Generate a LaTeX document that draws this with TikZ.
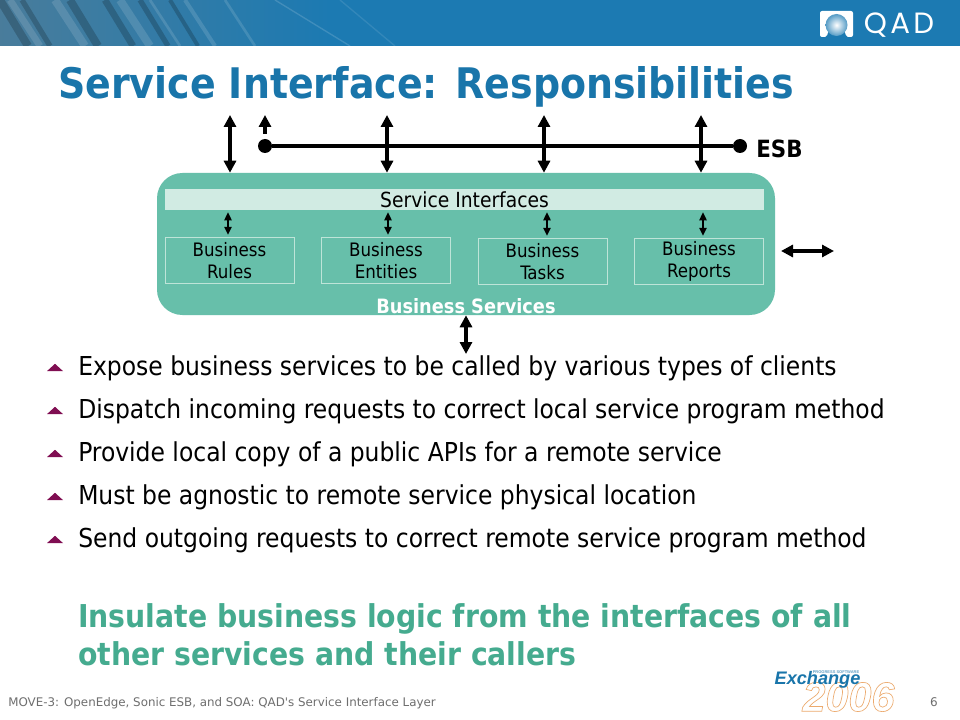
\documentclass[tikz,border=0pt]{standalone}
\usepackage{fontspec}
\setmainfont{DejaVu Sans Condensed}
\newfontfamily\footfont{DejaVu Sans}
\newfontfamily\logofont{Poppins}
\newfontfamily\exchfont{Liberation Sans}
\usetikzlibrary{arrows.meta,shapes.geometric}
\definecolor{colBand}{RGB}{28,122,178}
\definecolor{colTitle}{RGB}{25,117,170}
\definecolor{colBody}{RGB}{103,191,170}
\definecolor{colBar}{RGB}{209,235,227}
\definecolor{colLine}{RGB}{190,228,216}
\definecolor{colBullet}{RGB}{128,14,82}
\definecolor{colGreen}{RGB}{69,171,143}
\definecolor{colFoot}{RGB}{110,110,110}
\definecolor{colOrange}{RGB}{236,170,110}
\tikzset{
  mainarrow/.style={{Triangle[length=9pt,width=9pt]}-{Triangle[length=9pt,width=9pt]},line width=2.6pt},
  smallarrow/.style={{Triangle[length=6pt,width=5.5pt]}-{Triangle[length=6pt,width=5.5pt]},line width=1.1pt,
    shorten <=1.5pt,shorten >=1.5pt},
  bizbox/.style={draw=colLine,line width=0.5pt,minimum width=97pt,minimum height=35pt,
    align=center,inner sep=0pt,font=\fontsize{13.9}{16.5}\selectfont},
  busdot/.style={circle,fill=black,minimum size=10.5pt,inner sep=0pt},
  bulletmark/.style={isosceles triangle,isosceles triangle apex angle=97,shape border rotate=90,
    isosceles triangle stretches,fill=colBullet,inner sep=0pt,minimum width=12pt,minimum height=5.5pt},
  bullettext/.style={anchor=base west,inner sep=0pt,font=\fontsize{19.55}{22}\selectfont}
}
\begin{document}
\begin{tikzpicture}[x=0.75pt,y=-0.75pt]
  \useasboundingbox (0,0) rectangle (960,720);
  \fill[white] (0,0) rectangle (960,720);
  % Header band with the faded photo on its left
  \fill[colBand] (0,0) rectangle (960,46);
  \begin{scope}
    \clip (0,0) rectangle (960,46);
    \shade[left color=colBand!55!gray,right color=colBand] (0,0) rectangle (330,46);
    \foreach \x/\w in {10/5,55/6,120/6,150/2,185/3,225/2}{
      \draw[white,opacity=0.13,line width=\w pt] (\x,0) -- (\x+30,46);
    }
    \foreach \x/\w in {0/6,22/4,70/6,105/5,140/4,170/3}{
      \draw[black,opacity=0.2,line width=\w pt] (\x,0) -- (\x+28,46);
    }
    \draw[white,opacity=0.15,line width=1pt] (275,0) -- (350,46);
    \draw[white,opacity=0.10,line width=1pt] (340,0) -- (395,46);
  \end{scope}
  % QAD logo
  \fill[white,rounded corners=1.5pt] (820,37) -- (820,11) -- (853,11) -- (853,37) -- (846,37)
    .. controls (845,29) and (841,24) .. (836.5,24) .. controls (832,24) and (828,29) .. (827,37) -- cycle;
  \shade[inner color=white,outer color=colBand!75!white] (836.5,25) circle (11);
  \node[text=white,font=\logofont\fontsize{22}{22}\selectfont,inner sep=0pt] (qad) at (899,25) {Q\kern2.5pt A\kern2.5pt D};
  % Title
  \node[anchor=base west,inner sep=0pt,text=colTitle,font=\fontsize{31.6}{36}\selectfont\bfseries] (title) at (58,99)
    {Service Interface: Responsibilities};
  % Business services block
  \node[fill=colBody,rounded corners=19pt,minimum width=463.5pt,minimum height=106.5pt,inner sep=0pt] (services) at (466,244) {};
  \node[fill=colBar,minimum width=449pt,minimum height=15.8pt,inner sep=0pt,font=\fontsize{15.6}{16}\selectfont] (iface) at (464.5,199.5) {Service Interfaces};
  \node[bizbox] (rules) at (229.5,260.5) {Business\\Rules};
  \node[bizbox] (entities) at (386,260.5) {Business\\Entities};
  \node[bizbox] (tasks) at (542.5,261.5) {Business\\Tasks};
  \node[bizbox] (reports) at (699,261.5) {Business\\Reports};
  \node[text=white,font=\fontsize{14.8}{16}\selectfont\bfseries,inner sep=0pt] (svclabel) at (466,306.5) {Business Services};
  % Links from the boxes up to the interface bar
  \foreach \n/\d in {rules/-1.5,entities/2,tasks/4.5,reports/4}{
    \draw[smallarrow] ([xshift=\d*0.75pt]iface.south -| \n.north) -- ([xshift=\d*0.75pt]\n.north);
  }
  % ESB bus
  \node[busdot] (busL) at (265,146) {};
  \node[busdot] (busR) at (740,146) {};
  \draw[line width=2.9pt] (busL) -- (busR);
  \node[anchor=west,inner sep=0pt,font=\fontsize{17.8}{20}\selectfont\bfseries] (esb) at (756,149) {ESB};
  \coordinate (busup) at (265,115);
  \draw[-{Triangle[length=9pt,width=9pt]},line width=2.6pt,shorten <=3.75pt] (busL) -- (busup);
  % Service links through the bus
  \foreach \x in {230,387,544,701}{
    \draw[mainarrow] (\x,115) -- (\x,115 |- services.north);
  }
  \coordinate (sideL) at (781,251);
  \coordinate (sideR) at (834,251);
  \draw[mainarrow] (sideL) -- (sideR);
  \coordinate (downend) at (466,354);
  \draw[mainarrow] (services.south -| downend) -- (downend);
  % Bullets
  \foreach \y/\t in {375/{Expose business services to be called by various types of clients},
    418/{Dispatch incoming requests to correct local service program method},
    461/{Provide local copy of a public APIs for a remote service},
    504/{Must be agnostic to remote service physical location},
    547/{Send outgoing requests to correct remote service program method}}{
    \node[bulletmark] at (55,\y-7) {};
    \node[bullettext] at (78,\y) {\t};
  }
  % Closing statement
  \node[anchor=base west,inner sep=0pt,text=colGreen,font=\fontsize{23.6}{28.5}\selectfont\bfseries,align=left] (closing) at (78,665)
    {Insulate business logic from the interfaces of all\\other services and their callers};
  % Footer
  \node[anchor=base west,inner sep=0pt,text=colFoot,font=\footfont\fontsize{8.9}{11}\selectfont] (foot) at (8,706)
    {MOVE-3: OpenEdge, Sonic ESB, and SOA: QAD's Service Interface Layer};
  \node[text=colFoot,font=\footfont\fontsize{9}{11}\selectfont,inner sep=0pt] (pagenum) at (934,702) {6};
  % Exchange 2006 logo
  \node[inner sep=0pt,text=colOrange,font=\exchfont\fontsize{31}{31}\selectfont\bfseries\itshape] (yr) at (848.5,697)
    {\special{pdf:code 1 Tr 0.5 w}2006\special{pdf:code 0 Tr}};
  \node[inner sep=0pt,text=colTitle,font=\exchfont\fontsize{13.6}{16}\selectfont\bfseries\itshape] (exch) at (817.5,680) {Exchange};
  \node[inner sep=0pt,text=colTitle!70!white,font=\exchfont\fontsize{3}{3}\selectfont\bfseries] (progress) at (836,672) {PROGRESS SOFTWARE};
\end{tikzpicture}
\end{document}
